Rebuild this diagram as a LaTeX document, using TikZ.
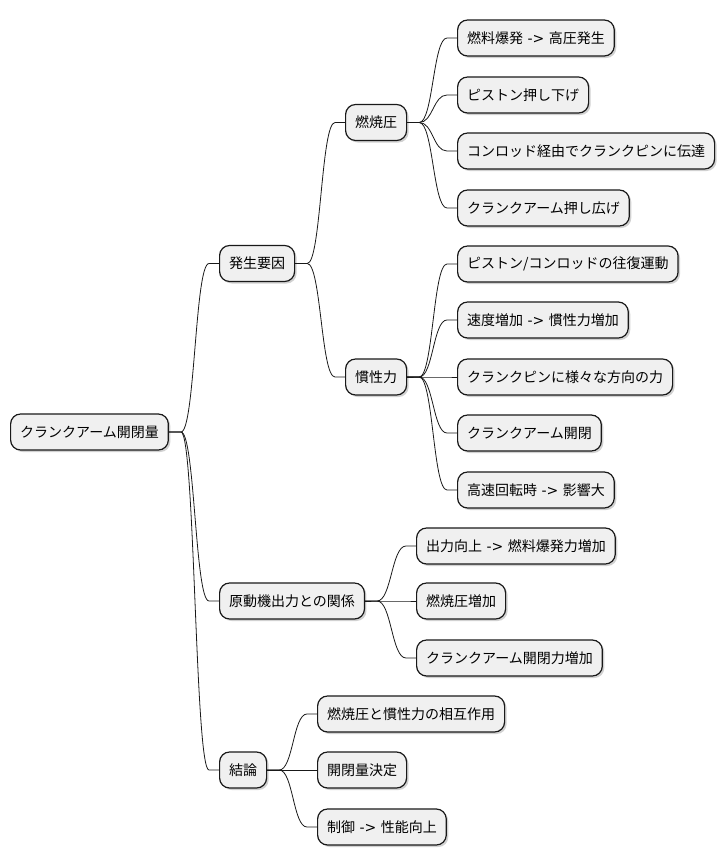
\documentclass[tikz,border=0pt]{standalone}
\usepackage{fontspec}
\setmainfont{Noto Sans CJK JP}
\newfontfamily\latf{DejaVu Sans}
\newcommand{\arr}{{\latf\ ->\ }}
\usetikzlibrary{calc,shadows}
\tikzset{
  mm/.style={draw=black!90, line width=1.2pt, fill=black!6, rounded corners=10pt,
    minimum height=36pt, inner xsep=9.5pt, inner ysep=0pt, anchor=west,
    font=\fontsize{14pt}{16pt}\selectfont,
    drop shadow={shadow xshift=2pt, shadow yshift=-2pt, opacity=0.18, fill=black}},
  link/.style={draw=black!90, line width=0.8pt}
}
\newcommand{\mmconn}[2]{%
  \draw[link] let \p1=(#1.east), \p2=(#2.west), \n1={(\x1+12pt+\x2-10pt)/2} in
    (\p1) -- (\x1+12pt,\y1) .. controls (\n1,\y1) and (\n1,\y2) .. (\x2-10pt,\y2) -- (\p2);}
\begin{document}
\begin{tikzpicture}[x=1pt,y=-1pt]
\useasboundingbox (0,0) rectangle (726,865);
\node[mm] (root) at (10,432) {クランクアーム開閉量};
\node[mm] (a) at (219,263.5) {発生要因};
\node[mm] (b) at (219,601) {原動機出力との関係};
\node[mm] (c) at (219,770) {結論};
\node[mm] (a1) at (345,122.5) {燃焼圧};
\node[mm] (a2) at (345,377) {慣性力};
\node[mm] (a11) at (457,38) {燃料爆発\arr 高圧発生};
\node[mm] (a12) at (457,95) {ピストン押し下げ};
\node[mm] (a13) at (457,151) {コンロッド経由でクランクピンに伝達};
\node[mm] (a14) at (457,208) {クランクアーム押し広げ};
\node[mm] (a21) at (457,264) {ピストン/コンロッドの往復運動};
\node[mm] (a22) at (457,320) {速度増加\arr 慣性力増加};
\node[mm] (a23) at (457,377) {クランクピンに様々な方向の力};
\node[mm] (a24) at (457,433) {クランクアーム開閉};
\node[mm] (a25) at (457,490) {高速回転時\arr 影響大};
\node[mm] (b1) at (416,546) {出力向上\arr 燃料爆発力増加};
\node[mm] (b2) at (416,601) {燃焼圧増加};
\node[mm] (b3) at (416,658) {クランクアーム開閉力増加};
\node[mm] (c1) at (317,714) {燃焼圧と慣性力の相互作用};
\node[mm] (c2) at (317,770) {開閉量決定};
\node[mm] (c3) at (317,827) {制御\arr 性能向上};
\mmconn{root}{a}
\mmconn{root}{b}
\mmconn{root}{c}
\mmconn{a}{a1}
\mmconn{a}{a2}
\mmconn{a1}{a11}
\mmconn{a1}{a12}
\mmconn{a1}{a13}
\mmconn{a1}{a14}
\mmconn{a2}{a21}
\mmconn{a2}{a22}
\mmconn{a2}{a23}
\mmconn{a2}{a24}
\mmconn{a2}{a25}
\mmconn{b}{b1}
\mmconn{b}{b2}
\mmconn{b}{b3}
\mmconn{c}{c1}
\mmconn{c}{c2}
\mmconn{c}{c3}
\end{tikzpicture}
\end{document}
